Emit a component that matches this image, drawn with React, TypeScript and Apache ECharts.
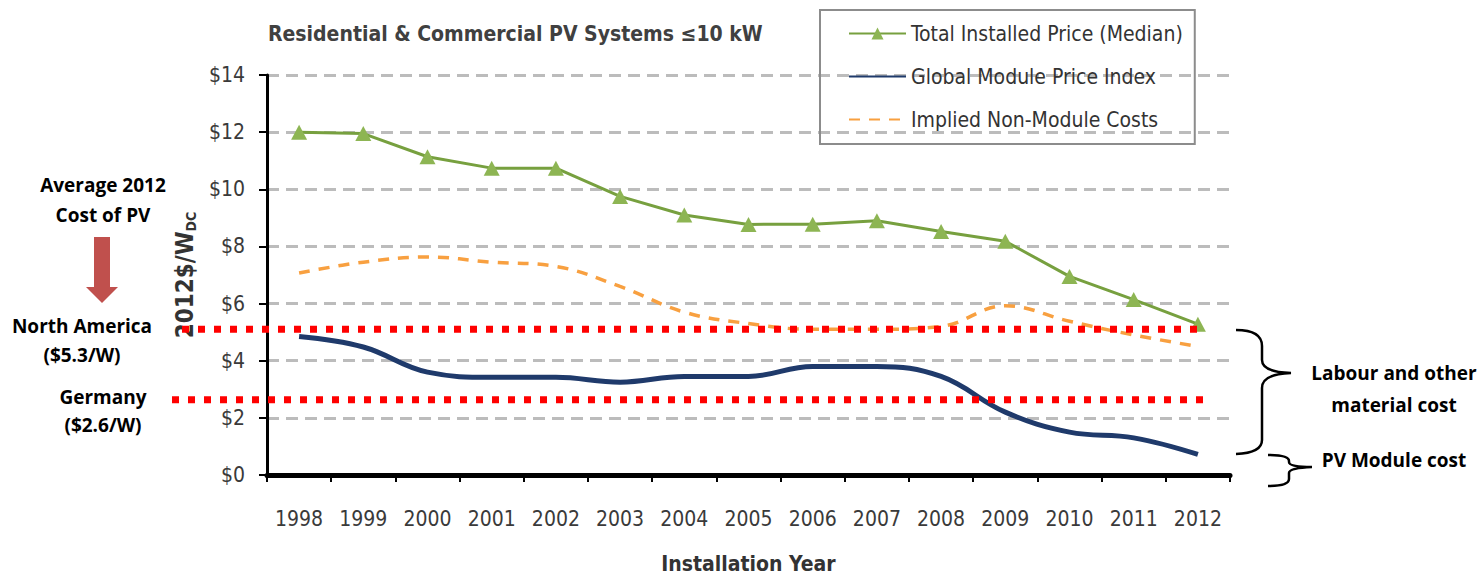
import React, { useEffect, useRef } from "react";
import * as echarts from "echarts";

const years = ["1998", "1999", "2000", "2001", "2002", "2003", "2004", "2005", "2006", "2007", "2008", "2009", "2010", "2011", "2012"];
const totalInstalled = [12.0, 11.95, 11.14, 10.74, 10.74, 9.75, 9.1, 8.77, 8.78, 8.9, 8.52, 8.18, 6.95, 6.14, 5.28];
const moduleIndex = [4.85, 4.48, 3.6, 3.42, 3.42, 3.25, 3.45, 3.45, 3.8, 3.8, 3.45, 2.2, 1.5, 1.3, 0.72];
const nonModule = [7.07, 7.45, 7.63, 7.45, 7.3, 6.6, 5.7, 5.3, 5.1, 5.1, 5.2, 5.92, 5.38, 4.9, 4.5];
const yTicks = [0, 2, 4, 6, 8, 10, 12, 14];
const naLevel = 5.1;
const deLevel = 2.63;

const NARROW = "'DejaVu Sans Condensed', 'Liberation Sans Narrow', sans-serif";
const CAL = "'Open Sans', Lato, sans-serif";

echarts.graphic.registerShape(
  "braceBig",
  echarts.graphic.extendPath(
    "M1236,330 Q1262,330 1262,346 L1262,360 Q1262,372 1291,373 Q1262,374 1262,388 L1262,440 Q1262,453 1236,454",
    {}
  )
);
echarts.graphic.registerShape(
  "braceSmall",
  echarts.graphic.extendPath(
    "M1268,455 Q1289,455 1289,461 L1289,462 Q1289,467 1312,467 Q1289,468 1289,473 L1289,479 Q1289,486 1268,486",
    {}
  )
);

const hiddenSymbol = { color: "rgba(0,0,0,0)", borderWidth: 0, opacity: 0 };

export default function App() {
  const ref = useRef<HTMLDivElement>(null);
  useEffect(() => {
    if (!ref.current) return;
    const chart = echarts.init(ref.current, undefined, { renderer: "svg" });
    chart.setOption({
      animation: false,
      backgroundColor: "#ffffff",
      title: {
        text: "Residential & Commercial PV Systems ≤10 kW",
        left: 263,
        top: 18,
        textStyle: { fontFamily: NARROW, fontWeight: "bold", fontSize: 21, color: "#404040" },
      },
      legend: {
        orient: "vertical",
        left: 820,
        top: 10,
        padding: [11, 12, 12, 28],
        itemGap: 18,
        itemWidth: 57,
        itemHeight: 15,
        borderColor: "#8c8c8c",
        borderWidth: 2,
        textStyle: { fontFamily: NARROW, fontSize: 21, color: "#333333", lineHeight: 25 },
        data: [
          { name: "Total Installed Price (Median)" },
          { name: "Global Module Price Index", itemStyle: hiddenSymbol },
          { name: "Implied Non-Module Costs", itemStyle: hiddenSymbol },
        ],
      },
      grid: { left: 267, right: 251, top: 75, bottom: 100, outerBoundsMode: "none", containLabel: false },
      xAxis: {
        type: "category",
        data: years,
        boundaryGap: true,
        name: "Installation Year",
        nameLocation: "middle",
        nameGap: 78,
        nameTextStyle: { fontFamily: NARROW, fontWeight: "bold", fontSize: 21, color: "#333333" },
        axisLine: { lineStyle: { color: "#000000", width: 5 } },
        axisTick: { show: true, length: 7, lineStyle: { color: "#000000", width: 2 } },
        axisLabel: { interval: 0, fontFamily: NARROW, fontSize: 21, color: "#3a3a3a", margin: 33 },
      },
      yAxis: {
        type: "value",
        min: yTicks[0],
        max: yTicks[yTicks.length - 1],
        interval: 2,
        name: "{a|2012$/W}{b|DC}",
        nameLocation: "middle",
        nameGap: 66,
        nameTextStyle: {
          rich: {
            a: { fontFamily: NARROW, fontWeight: "bold", fontSize: 24, color: "#333333", lineHeight: 26 },
            b: { fontFamily: NARROW, fontWeight: "bold", fontSize: 14, color: "#333333", lineHeight: 13, verticalAlign: "bottom" },
          },
        },
        axisLine: { show: true, lineStyle: { color: "#000000", width: 3 } },
        axisTick: { show: true, length: 8, lineStyle: { color: "#000000", width: 2 } },
        axisLabel: { fontFamily: NARROW, fontSize: 21, color: "#3a3a3a", margin: 22, formatter: (v: number) => "$" + v },
        splitLine: {
          show: true,
          lineStyle: { color: "#bcbcbc", width: 3, type: [12, 7] },
        },
      },
      series: [
        {
          name: "Total Installed Price (Median)",
          type: "line",
          data: totalInstalled,
          symbol: "triangle",
          symbolSize: [16, 15],
          lineStyle: { color: "#77a03f", width: 3 },
          itemStyle: { color: "#8db553" },
          z: 5,
        },
        {
          name: "Global Module Price Index",
          type: "line",
          data: moduleIndex,
          smooth: 0.4,
          symbol: "none",
          lineStyle: { color: "#1f3a6b", width: 5 },
          itemStyle: { color: "#1f3a6b" },
          z: 4,
        },
        {
          name: "Implied Non-Module Costs",
          type: "line",
          data: nonModule,
          smooth: 0.4,
          symbol: "none",
          lineStyle: { color: "#f8a040", width: 3.5, type: [11, 9] },
          itemStyle: { color: "#f8a040" },
          z: 3,
        },
      ],
    });

    const yNA = chart.convertToPixel({ yAxisIndex: 0 }, naLevel) as number;
    const yDE = chart.convertToPixel({ yAxisIndex: 0 }, deLevel) as number;
    const txt = (text: string, x: number, y: number, size = 19) => ({
      type: "text",
      x,
      y,
      z: 100,
      style: { text, fill: "#000000", font: `bold ${size}px ${CAL}`, align: "center", verticalAlign: "middle" },
    });
    chart.setOption({
      graphic: [
        { type: "line", z: 100, shape: { x1: 182, y1: yNA, x2: 1206, y2: yNA }, style: { stroke: "#ff0000", lineWidth: 7, lineDash: [7, 9] } },
        { type: "line", z: 100, shape: { x1: 172, y1: yDE, x2: 1206, y2: yDE }, style: { stroke: "#ff0000", lineWidth: 7, lineDash: [7, 9] } },
        txt("Average 2012", 103, 185),
        txt("Cost of PV", 103, 215),
        {
          type: "polygon",
          z: 100,
          shape: { points: [[94, 237], [110, 237], [110, 287], [118, 287], [102, 303], [86, 287], [94, 287]] },
          style: { fill: "#c0504d" },
        },
        txt("North America", 82, 326),
        txt("($5.3/W)", 82, 355),
        txt("Germany", 103, 397),
        txt("($2.6/W)", 103, 425),
        { type: "braceBig", z: 100, style: { stroke: "#000000", fill: null, lineWidth: 2.5 } },
        { type: "braceSmall", z: 100, style: { stroke: "#000000", fill: null, lineWidth: 2.5 } },
        txt("Labour and other", 1394, 373),
        txt("material cost", 1394, 405),
        txt("PV Module cost", 1394, 460),
      ],
    });
    return () => chart.dispose();
  }, []);
  return <div ref={ref} style={{ position: "fixed", left: 0, top: 0, width: 1481, height: 575 }} />;
}
